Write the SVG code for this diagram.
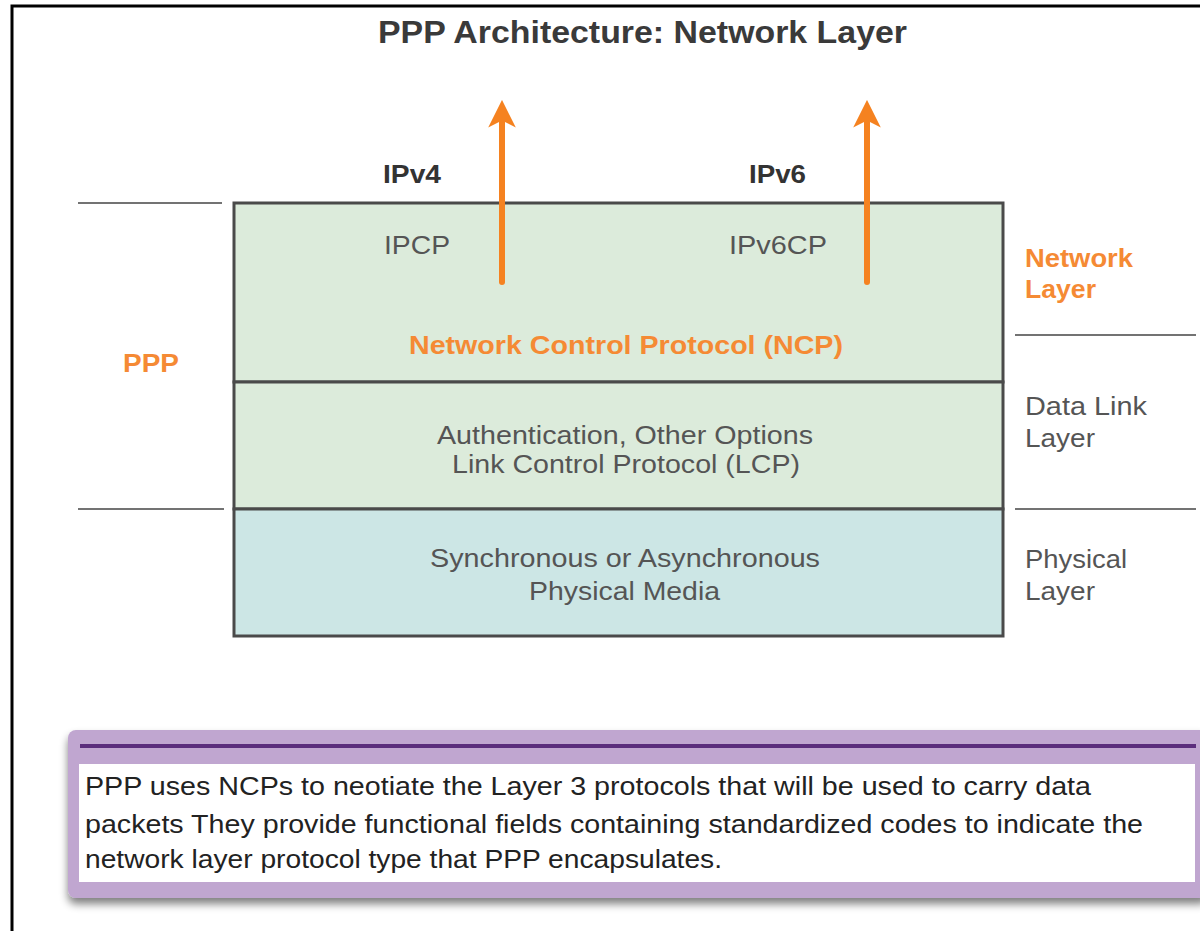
<svg xmlns="http://www.w3.org/2000/svg" width="1200" height="931" viewBox="0 0 1200 931">
<defs>
<style>
.t{font-family:"Liberation Sans",Arial,sans-serif;}
.title{font-size:31px;font-weight:bold;fill:#3a3a3a;}
.ip{font-size:25px;font-weight:bold;fill:#333;}
.cp{font-size:26px;fill:#555;}
.or{font-weight:bold;fill:#f58a34;font-size:26px;}
.lay{font-size:26px;fill:#555;}
.mid{font-size:26px;fill:#555;}
.body{font-size:26.5px;fill:#222;}
.sep{stroke:#444;stroke-width:1.5;}
.layer{stroke:#4a4a4a;stroke-width:3;}
.arrow{stroke:#f58220;stroke-width:6;stroke-linecap:round;fill:none;}
</style>
<marker id="ah" viewBox="0 0 10 10" refX="2" refY="5" markerWidth="4.6" markerHeight="4.6" orient="auto" markerUnits="strokeWidth">
<path d="M0,0 L10,5 L0,10 L2.5,5 Z" fill="#f58220"/>
</marker>
<filter id="sh" x="-5%" y="-20%" width="110%" height="150%">
<feGaussianBlur in="SourceAlpha" stdDeviation="4"/>
<feOffset dx="0" dy="6"/>
<feComponentTransfer><feFuncA type="linear" slope="0.5"/></feComponentTransfer>
<feMerge><feMergeNode/><feMergeNode in="SourceGraphic"/></feMerge>
</filter>
</defs>
<rect width="1200" height="931" fill="#fff"/>
<path d="M12,931 V6 H1200" fill="none" stroke="#000" stroke-width="3"/>
<text class="t title" x="378" y="43" textLength="529" lengthAdjust="spacingAndGlyphs">PPP Architecture: Network Layer</text>

<g id="separators">
<line class="sep" x1="78" y1="203" x2="222" y2="203"/>
<line class="sep" x1="78" y1="509" x2="224" y2="509"/>
<line class="sep" x1="1015" y1="335" x2="1196" y2="335"/>
<line class="sep" x1="1015" y1="509" x2="1196" y2="509"/>
</g>

<g id="ncp">
<rect class="layer" x="234" y="203" width="769" height="179" fill="#dcebdb"/>
<text class="t cp" x="384" y="254" textLength="66" lengthAdjust="spacingAndGlyphs">IPCP</text>
<text class="t cp" x="729" y="254" textLength="98" lengthAdjust="spacingAndGlyphs">IPv6CP</text>
<text class="t or" x="409" y="354" textLength="434" lengthAdjust="spacingAndGlyphs">Network Control Protocol (NCP)</text>
</g>
<g id="lcp">
<rect class="layer" x="234" y="382" width="769" height="127" fill="#dcebdb"/>
<text class="t mid" x="437" y="444" textLength="376" lengthAdjust="spacingAndGlyphs">Authentication, Other Options</text>
<text class="t mid" x="452" y="473" textLength="348" lengthAdjust="spacingAndGlyphs">Link Control Protocol (LCP)</text>
</g>
<g id="physical">
<rect class="layer" x="234" y="509" width="769" height="127" fill="#cce6e5"/>
<text class="t mid" x="430" y="567" textLength="390" lengthAdjust="spacingAndGlyphs">Synchronous or Asynchronous</text>
<text class="t mid" x="529" y="600" textLength="191" lengthAdjust="spacingAndGlyphs">Physical Media</text>
</g>

<g id="connectors">
<line class="arrow" x1="502" y1="282" x2="502" y2="122" marker-end="url(#ah)"/>
<line class="arrow" x1="867" y1="282" x2="867" y2="122" marker-end="url(#ah)"/>
</g>

<g id="labels">
<text class="t ip" x="383" y="183" textLength="58" lengthAdjust="spacingAndGlyphs">IPv4</text>
<text class="t ip" x="749" y="183" textLength="57" lengthAdjust="spacingAndGlyphs">IPv6</text>
<text class="t or" x="123" y="372" textLength="56" lengthAdjust="spacingAndGlyphs">PPP</text>
<text class="t or" x="1025" y="267" textLength="108" lengthAdjust="spacingAndGlyphs">Network</text>
<text class="t or" x="1025" y="298" textLength="71" lengthAdjust="spacingAndGlyphs">Layer</text>
<text class="t lay" x="1025" y="415" textLength="122" lengthAdjust="spacingAndGlyphs">Data Link</text>
<text class="t lay" x="1025" y="447" textLength="70" lengthAdjust="spacingAndGlyphs">Layer</text>
<text class="t lay" x="1025" y="568" textLength="102" lengthAdjust="spacingAndGlyphs">Physical</text>
<text class="t lay" x="1025" y="600" textLength="70" lengthAdjust="spacingAndGlyphs">Layer</text>
</g>

<g id="note">
<rect x="68" y="730" width="1140" height="168" rx="8" fill="#c0a6d0" filter="url(#sh)"/>
<line x1="80" y1="746" x2="1196" y2="746" stroke="#5b2d7c" stroke-width="4"/>
<rect x="79" y="764" width="1116" height="118" fill="#fff"/>
<text class="t body" x="85" y="795" textLength="1006" lengthAdjust="spacingAndGlyphs">PPP uses NCPs to neotiate the Layer 3 protocols that will be used to carry data</text>
<text class="t body" x="85" y="833" textLength="1058" lengthAdjust="spacingAndGlyphs">packets They provide functional fields containing standardized codes to indicate the</text>
<text class="t body" x="85" y="868" textLength="637" lengthAdjust="spacingAndGlyphs">network layer protocol type that PPP encapsulates.</text>
</g>
</svg>
